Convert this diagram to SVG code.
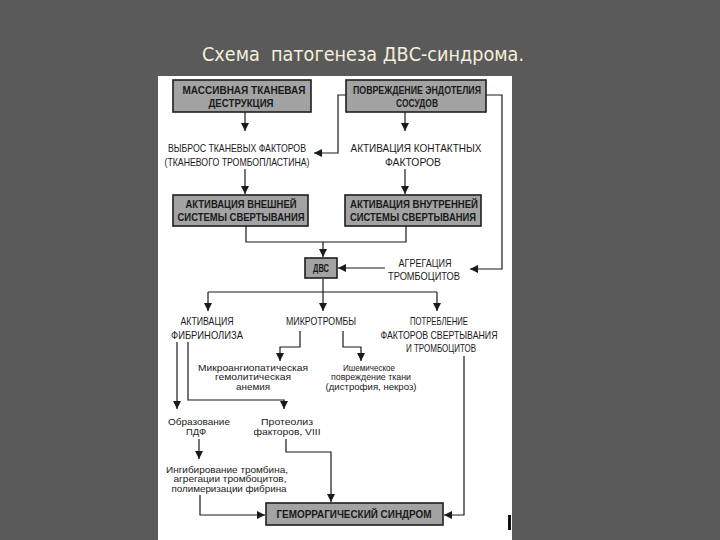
<svg xmlns="http://www.w3.org/2000/svg" width="720" height="540" viewBox="0 0 720 540">
<defs>
<marker id="ah" markerUnits="userSpaceOnUse" markerWidth="9" markerHeight="8" refX="8" refY="4" orient="auto">
<path d="M0,0 L8,4 L0,8 z" fill="#1a1a1a"/>
</marker>
<style>
.bg{fill:#5a5a5a}
.panel{fill:#ffffff}
.title{font-family:"DejaVu Sans","Liberation Sans",sans-serif;font-size:19px;fill:#f4efdc;white-space:pre}
.box{fill:#a3a3a3;stroke:#1e1e1e;stroke-width:1.6}
.bt{font-family:"Liberation Sans",Arial,sans-serif;font-size:10.5px;font-weight:bold;fill:#1a1a1a;text-anchor:middle}
.t{font-family:"Liberation Sans",Arial,sans-serif;font-size:10.5px;fill:#1a1a1a;text-anchor:middle}
.s{font-family:"Liberation Sans",Arial,sans-serif;font-size:8.4px;fill:#1a1a1a;text-anchor:middle}
.c{fill:none;stroke:#1a1a1a;stroke-width:1.2}
.ca{fill:none;stroke:#1a1a1a;stroke-width:1.2;marker-end:url(#ah)}
</style>
</defs>
<rect class="bg" x="0" y="0" width="720" height="540"/>
<text class="title" x="202" y="61" textLength="322" lengthAdjust="spacingAndGlyphs">Схема  патогенеза ДВС-синдрома.</text>
<rect class="panel" x="158" y="76" width="354" height="464"/>
<rect x="508" y="515" width="3" height="15" fill="#111"/>

<g id="connectors">
<path class="ca" d="M245,112 V131"/>
<path class="ca" d="M346,95 H338 V153 H314"/>
<path class="ca" d="M405,112 V131"/>
<path class="ca" d="M486,95 H502 V269 H470"/>
<path class="ca" d="M245,169 V194"/>
<path class="ca" d="M405,169 V194"/>
<path class="c" d="M246,226 V242 H406 V226"/>
<path class="ca" d="M323,242 V257"/>
<path class="ca" d="M385,268 H338"/>
<path class="c" d="M323,279 V292"/>
<path class="c" d="M208,292 H437"/>
<path class="ca" d="M208,292 V311"/>
<path class="ca" d="M323,292 V311"/>
<path class="ca" d="M437,292 V311"/>
<path class="ca" d="M300,331 V347 H280 V361"/>
<path class="ca" d="M343,331 V347 H361 V361"/>
<path class="ca" d="M177,342 V409"/>
<path class="ca" d="M188,342 V400 H284 V409"/>
<path class="ca" d="M199,439 V459"/>
<path class="ca" d="M200,495 V515 H265"/>
<path class="ca" d="M286,439 V452 H331 V502"/>
<path class="ca" d="M464,356 V515 H444"/>
</g>

<g id="n_tissue">
<rect class="box" x="173" y="80" width="138" height="32"/>
<text class="bt" x="244" y="94" textLength="123" lengthAdjust="spacingAndGlyphs">МАССИВНАЯ ТКАНЕВАЯ</text>
<text class="bt" x="241" y="107" textLength="65" lengthAdjust="spacingAndGlyphs">ДЕСТРУКЦИЯ</text>
</g>
<g id="n_endothelium">
<rect class="box" x="346" y="80" width="140" height="32"/>
<text class="bt" x="417" y="94" textLength="128" lengthAdjust="spacingAndGlyphs">ПОВРЕЖДЕНИЕ ЭНДОТЕЛИЯ</text>
<text class="bt" x="417" y="107" textLength="42" lengthAdjust="spacingAndGlyphs">СОСУДОВ</text>
</g>
<g id="n_release">
<text class="t" x="237" y="152" textLength="138" lengthAdjust="spacingAndGlyphs">ВЫБРОС ТКАНЕВЫХ ФАКТОРОВ</text>
<text class="t" x="237" y="166" textLength="145" lengthAdjust="spacingAndGlyphs">(ТКАНЕВОГО ТРОМБОПЛАСТИНА)</text>
</g>
<g id="n_contact">
<text class="t" x="416" y="152" textLength="131" lengthAdjust="spacingAndGlyphs">АКТИВАЦИЯ КОНТАКТНЫХ</text>
<text class="t" x="413" y="166" textLength="56" lengthAdjust="spacingAndGlyphs">ФАКТОРОВ</text>
</g>
<g id="n_extrinsic">
<rect class="box" x="173" y="195" width="135" height="31"/>
<text class="bt" x="241" y="208" textLength="111" lengthAdjust="spacingAndGlyphs">АКТИВАЦИЯ ВНЕШНЕЙ</text>
<text class="bt" x="241" y="221" textLength="127" lengthAdjust="spacingAndGlyphs">СИСТЕМЫ СВЕРТЫВАНИЯ</text>
</g>
<g id="n_intrinsic">
<rect class="box" x="345" y="195" width="136" height="31"/>
<text class="bt" x="414" y="208" textLength="128" lengthAdjust="spacingAndGlyphs">АКТИВАЦИЯ ВНУТРЕННЕЙ</text>
<text class="bt" x="413" y="221" textLength="126" lengthAdjust="spacingAndGlyphs">СИСТЕМЫ СВЕРТЫВАНИЯ</text>
</g>
<g id="n_dic">
<rect class="box" x="305" y="258" width="32" height="20"/>
<text class="bt" x="321" y="272" textLength="16" lengthAdjust="spacingAndGlyphs">ДВС</text>
</g>
<g id="n_aggregation">
<text class="t" x="425" y="267" textLength="53" lengthAdjust="spacingAndGlyphs">АГРЕГАЦИЯ</text>
<text class="t" x="424" y="280" textLength="72" lengthAdjust="spacingAndGlyphs">ТРОМБОЦИТОВ</text>
</g>
<g id="n_fibrinolysis">
<text class="t" x="207" y="325" textLength="53" lengthAdjust="spacingAndGlyphs">АКТИВАЦИЯ</text>
<text class="t" x="207" y="339" textLength="72" lengthAdjust="spacingAndGlyphs">ФИБРИНОЛИЗА</text>
</g>
<g id="n_microthrombi">
<text class="t" x="321" y="325" textLength="70" lengthAdjust="spacingAndGlyphs">МИКРОТРОМБЫ</text>
</g>
<g id="n_consumption">
<text class="t" x="439" y="325" textLength="58" lengthAdjust="spacingAndGlyphs">ПОТРЕБЛЕНИЕ</text>
<text class="t" x="439" y="339" textLength="117" lengthAdjust="spacingAndGlyphs">ФАКТОРОВ СВЕРТЫВАНИЯ</text>
<text class="t" x="441" y="352" textLength="70" lengthAdjust="spacingAndGlyphs">И ТРОМБОЦИТОВ</text>
</g>
<g id="n_anemia">
<text class="s" x="253" y="370.5" textLength="110" lengthAdjust="spacingAndGlyphs">Микроангиопатическая</text>
<text class="s" x="253" y="380" textLength="76" lengthAdjust="spacingAndGlyphs">гемолитическая</text>
<text class="s" x="253" y="389.5" textLength="34" lengthAdjust="spacingAndGlyphs">анемия</text>
</g>
<g id="n_ischemia">
<text class="s" x="369" y="370.5" textLength="52" lengthAdjust="spacingAndGlyphs">Ишемическое</text>
<text class="s" x="371" y="380" textLength="80" lengthAdjust="spacingAndGlyphs">повреждение ткани</text>
<text class="s" x="371" y="389.5" textLength="91" lengthAdjust="spacingAndGlyphs">(дистрофия, некроз)</text>
</g>
<g id="n_fdp">
<text class="s" x="199" y="425" textLength="62" lengthAdjust="spacingAndGlyphs">Образование</text>
<text class="s" x="196" y="435" textLength="20" lengthAdjust="spacingAndGlyphs">ПДФ</text>
</g>
<g id="n_proteolysis">
<text class="s" x="287" y="425" textLength="52" lengthAdjust="spacingAndGlyphs">Протеолиз</text>
<text class="s" x="287" y="435" textLength="67" lengthAdjust="spacingAndGlyphs">факторов, VIII</text>
</g>
<g id="n_inhibition">
<text class="s" x="227" y="472.5" textLength="122" lengthAdjust="spacingAndGlyphs">Ингибирование тромбина,</text>
<text class="s" x="230" y="482" textLength="113" lengthAdjust="spacingAndGlyphs">агрегации тромбоцитов,</text>
<text class="s" x="229" y="491.5" textLength="115" lengthAdjust="spacingAndGlyphs">полимеризации фибрина</text>
</g>
<g id="n_hemorrhagic">
<rect class="box" x="266" y="503" width="177" height="22"/>
<text class="bt" x="354" y="518" textLength="155" lengthAdjust="spacingAndGlyphs">ГЕМОРРАГИЧЕСКИЙ СИНДРОМ</text>
</g>
</svg>
